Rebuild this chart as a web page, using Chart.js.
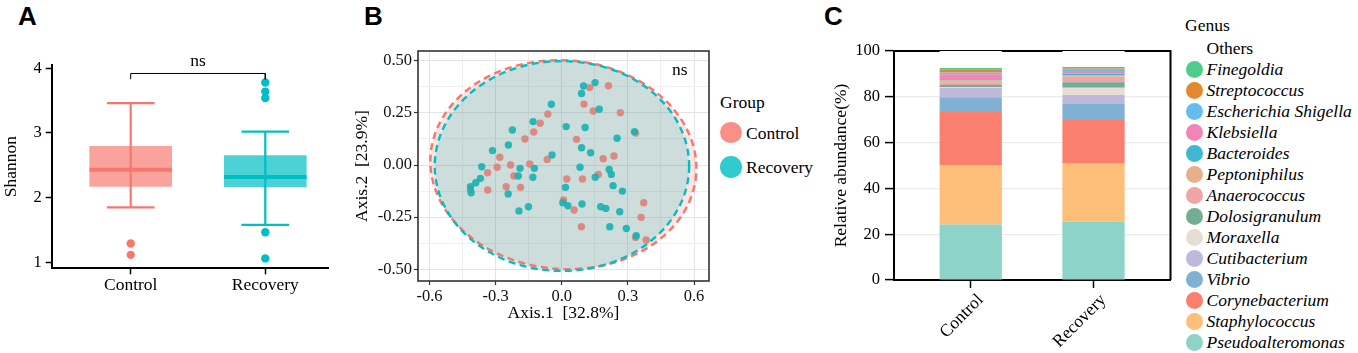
<!DOCTYPE html>
<html><head><meta charset="utf-8">
<script src="https://cdn.jsdelivr.net/npm/chart.js@4.4.1/dist/chart.umd.min.js"></script>
<style>
html,body{margin:0;padding:0;background:#fff;}
body{width:1358px;height:353px;position:relative;overflow:hidden;font-family:'Liberation Serif','Times New Roman',serif;color:#000;}
canvas{position:absolute;top:0;}
.pl{position:absolute;font-family:'Liberation Sans',Arial,sans-serif;font-weight:bold;font-size:26px;line-height:26px;}
.lg{position:absolute;font-family:'Liberation Serif','Times New Roman',serif;font-size:17.5px;line-height:20px;white-space:nowrap;transform:translateY(-50%);}
.dot{position:absolute;border-radius:50%;}
</style></head>
<body>
<div class="pl" style="left:18px;top:3px">A</div>
<div class="pl" style="left:364px;top:3px">B</div>
<div class="pl" style="left:824px;top:3px">C</div>
<canvas id="cA" width="345" height="353" style="left:0"></canvas>
<canvas id="cB" width="380" height="353" style="left:340px"></canvas>
<canvas id="cC" width="360" height="353" style="left:820px"></canvas>
<div id="legB"></div>
<div id="legC"></div>
<script>
// ---------- Panel A: Shannon diversity ----------
const boxGroups = ['Control', 'Recovery'];
const boxPositions = [0, 1];
const boxQ1 = [2.17, 2.16];
const boxMedian = [2.43, 2.32];
const boxQ3 = [2.80, 2.655];
const whiskerLow = [1.85, 1.58];
const whiskerHigh = [3.46, 3.02];
const outliersControl = [1.29, 1.115];
const outliersRecovery = [3.78, 3.64, 3.54, 1.465, 1.06];
const shannonTicks = [1, 2, 3, 4];
const bracketY = [3.83, 3.92];

// ---------- Panel B: PCoA ----------
const pcoaControl = [[0.127,0.371],[0.212,0.380],[0.101,0.292],[0.143,0.259],[0.266,0.251],[-0.063,0.244],[-0.098,0.200],[-0.127,0.158],[-0.167,0.125],[0.067,0.123],[0.335,0.153],[-0.281,0.037],[-0.066,0.027],[0.188,0.030],[0.237,0.043],[-0.293,-0.011],[-0.232,0.000],[-0.145,0.005],[-0.336,-0.037],[-0.217,-0.053],[-0.252,-0.104],[-0.187,-0.107],[-0.336,-0.120],[-0.414,-0.117],[0.023,-0.067],[0.094,-0.067],[0.166,-0.045],[0.008,-0.168],[0.056,-0.216],[0.089,-0.296],[0.372,-0.181],[0.360,-0.251],[0.335,-0.347],[0.383,-0.359]];
const pcoaRecovery = [[0.099,0.379],[0.151,0.395],[0.090,0.343],[-0.047,0.291],[0.170,0.267],[-0.130,0.208],[0.020,0.184],[0.106,0.180],[-0.224,0.168],[0.330,0.160],[0.251,0.128],[-0.242,0.096],[0.090,0.083],[-0.314,0.069],[0.131,0.059],[-0.044,0.048],[-0.363,-0.008],[0.083,-0.011],[-0.189,-0.016],[-0.124,-0.016],[-0.369,-0.064],[-0.390,-0.085],[-0.414,-0.104],[-0.411,-0.133],[-0.197,-0.053],[-0.131,-0.059],[0.017,-0.107],[-0.243,-0.139],[0.215,-0.021],[0.225,-0.045],[0.233,-0.099],[0.275,-0.125],[0.152,-0.059],[-0.194,-0.220],[-0.151,-0.200],[0.005,-0.181],[0.028,-0.195],[0.092,-0.187],[0.177,-0.200],[0.200,-0.208],[0.263,-0.224],[0.218,-0.296],[0.293,-0.304],[0.338,-0.339]];
// ellipse: [centreX, centreY, radiusX, radiusY, rotationDeg]
const ellipseControl = [0.0075, 0.0015, 0.604, 0.500, 4];
const ellipseRecovery = [0.001, -0.0047, 0.577, 0.503, 0];
const pcoaXTicks = [-0.6,-0.45,-0.3,-0.15,0,0.15,0.3,0.45,0.6];
const pcoaYTicks = [-0.5,-0.375,-0.25,-0.125,0,0.125,0.25,0.375,0.5];
const groupNames = ['Control', 'Recovery'];

// ---------- Panel C: genus composition (bottom to top) ----------
const genera = ['Pseudoalteromonas','Staphylococcus','Corynebacterium','Vibrio','Cutibacterium','Moraxella','Dolosigranulum','Anaerococcus','Peptoniphilus','Bacteroides','Klebsiella','Escherichia Shigella','Streptococcus','Finegoldia','Others'];
const abundanceControl  = [24.2, 26.0, 23.2, 6.4, 4.2, 0.3, 0.9, 0.9, 1.0, 0.6, 2.1, 0.8, 1.4, 0.6, 7.4];
const abundanceRecovery = [25.6, 25.5, 18.8, 7.0, 3.9, 3.2, 2.3, 2.5, 0.7, 0.7, 1.1, 0.5, 0.6, 0.6, 7.0];
const genusColors = ['#8DD3C7','#FDBE78','#FA7F6F','#80B1D3','#BEB8DC','#E8DDD4','#72AE96','#EFA4A6','#E6B08A','#3DB7D2','#F384B5','#65BDED','#E5872C','#4FCB8B','#FFFFFF'];
const abundanceTicks = [0, 20, 40, 60, 80, 100];
const sampleGroups = ['Control', 'Recovery'];

Chart.defaults.font.family = "'Liberation Serif','Times New Roman',serif";
Chart.defaults.color = '#000';
Chart.defaults.animation = false;

const colA = ['#F8766D', '#00BFC4'];
const boxFillA = ['rgba(248,118,109,0.68)', 'rgba(0,191,196,0.70)'];

// ---------- Chart A ----------
(function(){
  const ds = [];
  ds.push({type:'line', data:[{x:0,y:bracketY[0]},{x:0,y:bracketY[1]},{x:1,y:bracketY[1]},{x:1,y:bracketY[0]}],
           borderColor:'#000', borderWidth:1, pointRadius:0, tension:0, fill:false, order:0});
  ds.push({type:'scatter', data: outliersControl.map(v=>({x:0,y:v})), backgroundColor:colA[0], borderWidth:0, pointRadius:4.2, order:1});
  ds.push({type:'scatter', data: outliersRecovery.map(v=>({x:1,y:v})), backgroundColor:colA[1], borderWidth:0, pointRadius:4.2, order:1});
  const boxHalf = 0.307, capHalf = 0.177;
  boxPositions.forEach((p,i)=>{
    ds.push({type:'line', data:[{x:p-boxHalf,y:boxMedian[i]},{x:p+boxHalf,y:boxMedian[i]}], borderColor:colA[i], borderWidth:4, pointRadius:0, tension:0, order:2});
    ds.push({type:'line', data:[{x:p,y:whiskerLow[i]},{x:p,y:whiskerHigh[i]}], borderColor:colA[i], borderWidth:2.2, pointRadius:0, tension:0, order:3});
    ds.push({type:'line', data:[{x:p-capHalf,y:whiskerHigh[i]},{x:p+capHalf,y:whiskerHigh[i]}], borderColor:colA[i], borderWidth:2.2, pointRadius:0, tension:0, order:3});
    ds.push({type:'line', data:[{x:p-capHalf,y:whiskerLow[i]},{x:p+capHalf,y:whiskerLow[i]}], borderColor:colA[i], borderWidth:2.2, pointRadius:0, tension:0, order:3});
  });
  ds.push({type:'bar', data: boxPositions.map((p,i)=>({x:p, y:[boxQ1[i], boxQ3[i]]})), backgroundColor:boxFillA, borderWidth:0,
           barPercentage:0.614, categoryPercentage:1, order:4});
  const nsPlugin = {id:'nsA', afterDraw(c){
    const ctx=c.ctx, x=c.scales.x, y=c.scales.y;
    ctx.save(); ctx.font="17.5px 'Liberation Serif',serif"; ctx.fillStyle='#000'; ctx.textAlign='center'; ctx.textBaseline='alphabetic';
    ctx.fillText('ns', (x.getPixelForValue(0)+x.getPixelForValue(1))/2, y.getPixelForValue(bracketY[1]) - 7);
    ctx.restore();
  }};
  new Chart(document.getElementById('cA'), {
    type:'scatter', data:{datasets:ds},
    options:{responsive:false, maintainAspectRatio:false, animation:false,
      layout:{padding:{top:65,right:17,bottom:0,left:0}},
      plugins:{legend:{display:false}, tooltip:{enabled:false}},
      scales:{
        x:{type:'linear', min:-0.587, max:1.466, offset:false, stacked:false,
          afterBuildTicks:s=>{s.ticks=boxPositions.map(v=>({value:v}));},
          afterFit:s=>{s.height=84.7;},
          ticks:{callback:v=>boxGroups[v], font:{size:17.5}, color:'#000', padding:1, maxRotation:0, autoSkip:false},
          grid:{drawOnChartArea:false, drawTicks:true, tickLength:6, tickColor:'#000', tickWidth:1.5, offset:false},
          border:{color:'#000', width:2}},
        y:{type:'linear', min:0.907, max:4.051, beginAtZero:false,
          afterBuildTicks:s=>{s.ticks=shannonTicks.map(v=>({value:v}));},
          afterFit:s=>{s.width=51.7;},
          ticks:{font:{size:16.5}, color:'#000', padding:4, callback:v=>String(v)},
          grid:{drawOnChartArea:false, drawTicks:true, tickLength:6, tickColor:'#000', tickWidth:1.5},
          border:{color:'#000', width:2},
          title:{display:true, text:'Shannon', font:{size:17.5}, color:'#000', padding:{top:0.5,bottom:0}}}
      }},
    plugins:[nsPlugin]
  });
})();

// ---------- Chart B ----------
(function(){
  const isMajX = v => Math.abs(v/0.3 - Math.round(v/0.3)) < 1e-6;
  const isMajY = v => Math.abs(v/0.25 - Math.round(v/0.25)) < 1e-6;
  const ellipses = [[ellipseControl,'rgba(248,118,109,0.2)','#F8766D'],[ellipseRecovery,'rgba(0,191,196,0.2)','#00BFC4']];
  const ellPlugin = {id:'ell', beforeDatasetsDraw(c){
    const ctx=c.ctx, x=c.scales.x, y=c.scales.y;
    const sx = x.getPixelForValue(1)-x.getPixelForValue(0), sy = y.getPixelForValue(0)-y.getPixelForValue(1);
    ellipses.forEach(([e,fillC])=>{
      ctx.save(); ctx.beginPath();
      ctx.ellipse(x.getPixelForValue(e[0]), y.getPixelForValue(e[1]), e[2]*sx, e[3]*sy, e[4]*Math.PI/180, 0, Math.PI*2);
      ctx.fillStyle=fillC; ctx.fill(); ctx.restore();
    });
    ellipses.forEach(([e,fillC,strokeC])=>{
      ctx.save(); ctx.beginPath();
      ctx.ellipse(x.getPixelForValue(e[0]), y.getPixelForValue(e[1]), e[2]*sx, e[3]*sy, e[4]*Math.PI/180, 0, Math.PI*2);
      ctx.setLineDash([7,4.5]); ctx.lineWidth=2.4; ctx.strokeStyle=strokeC; ctx.stroke(); ctx.restore();
    });
  }, afterDatasetsDraw(c){
    const ctx=c.ctx, a=c.chartArea, x=c.scales.x, y=c.scales.y;
    ctx.save(); ctx.strokeStyle='#333'; ctx.lineWidth=1.6;
    ctx.strokeRect(a.left, a.top, a.right-a.left, a.bottom-a.top);
    ctx.font="17.5px 'Liberation Serif',serif"; ctx.fillStyle='#000'; ctx.textAlign='center'; ctx.textBaseline='middle';
    ctx.fillText('ns', x.getPixelForValue(0.535), y.getPixelForValue(0.455));
    ctx.restore();
  }};
  new Chart(document.getElementById('cB'), {
    type:'scatter',
    data:{datasets:[
      {label:groupNames[1], data:pcoaRecovery.map(p=>({x:p[0],y:p[1]})), backgroundColor:'rgba(22,178,180,0.9)', borderWidth:0, pointRadius:3.7, order:0},
      {label:groupNames[0], data:pcoaControl.map(p=>({x:p[0],y:p[1]})), backgroundColor:'rgba(222,130,120,0.9)', borderWidth:0, pointRadius:3.7, order:1}
    ]},
    options:{responsive:false, maintainAspectRatio:false, animation:false,
      layout:{padding:{top:51,right:11,bottom:0,left:0}},
      plugins:{legend:{display:false}, tooltip:{enabled:false}},
      scales:{
        x:{type:'linear', min:-0.652, max:0.668,
          afterBuildTicks:s=>{s.ticks=pcoaXTicks.map(v=>({value:v}));},
          afterFit:s=>{s.height=72;},
          ticks:{callback:v=>isMajX(v)?v.toFixed(1):'', font:{size:16.5}, color:'#111', padding:2, maxRotation:0, autoSkip:false},
          grid:{color:ctx=>isMajX(ctx.tick.value)?'#E4E4E4':'#F0F0F0', lineWidth:1, drawTicks:true, tickLength:4,
                tickColor:ctx=>isMajX(ctx.tick.value)?'#333':'rgba(0,0,0,0)', tickWidth:1.2},
          border:{display:false},
          title:{display:true, text:'Axis.1  [32.8%]', font:{size:17.5}, color:'#000', padding:{top:0,bottom:29.5}}},
        y:{type:'linear', min:-0.556, max:0.5465,
          afterBuildTicks:s=>{s.ticks=pcoaYTicks.map(v=>({value:v}));},
          afterFit:s=>{s.width=78;},
          ticks:{callback:v=>isMajY(v)?v.toFixed(2):'', font:{size:16.5}, color:'#111', padding:2, autoSkip:false},
          grid:{color:ctx=>isMajY(ctx.tick.value)?'#E4E4E4':'#F0F0F0', lineWidth:1, drawTicks:true, tickLength:4,
                tickColor:ctx=>isMajY(ctx.tick.value)?'#333':'rgba(0,0,0,0)', tickWidth:1.2},
          border:{display:false},
          title:{display:true, text:'Axis.2  [23.9%]', font:{size:17.5}, color:'#000', padding:{top:11.5,bottom:0}}}
      }},
    plugins:[ellPlugin]
  });
  const lg = document.getElementById('legB');
  let h = '<div class="lg" style="left:720px;top:102px">Group</div>';
  const lcol = ['rgba(248,118,109,0.82)','rgba(0,191,196,0.82)'];
  const ly = [132.5, 167.2];
  groupNames.forEach((g,i)=>{
    h += `<div class="dot" style="left:${730.8-10.8}px;top:${ly[i]-10.8}px;width:21.6px;height:21.6px;background:${lcol[i]}"></div>`;
    h += `<div class="lg" style="left:746px;top:${ly[i]}px">${g}</div>`;
  });
  lg.innerHTML = h;
})();

// ---------- Chart C ----------
(function(){
  const framePlugin = {id:'frameC', beforeDatasetsDraw(c){
    const ctx=c.ctx, a=c.chartArea;
    ctx.save(); ctx.strokeStyle='#000'; ctx.lineWidth=2;
    ctx.beginPath(); ctx.moveTo(a.left, a.top); ctx.lineTo(a.right, a.top); ctx.lineTo(a.right, a.bottom); ctx.stroke();
    ctx.restore();
  }};
  new Chart(document.getElementById('cC'), {
    type:'bar',
    data:{datasets: genera.map((g,i)=>({label:g,
      data:[{x:0,y:abundanceControl[i]},{x:1,y:abundanceRecovery[i]}],
      backgroundColor:genusColors[i], borderWidth:0, barPercentage:0.507, categoryPercentage:1}))},
    options:{responsive:false, maintainAspectRatio:false, animation:false,
      layout:{padding:{top:51,right:9.5,bottom:0,left:0}},
      plugins:{legend:{display:false}, tooltip:{enabled:false}},
      scales:{
        x:{type:'linear', min:-0.625, max:1.627, offset:false, stacked:true,
          afterBuildTicks:s=>{s.ticks=[0,1].map(v=>({value:v}));},
          afterFit:s=>{s.height=73;},
          ticks:{callback:v=>sampleGroups[v], font:{size:17.5}, color:'#000', padding:2, minRotation:45, maxRotation:45, autoSkip:false, labelOffset:10},
          grid:{drawOnChartArea:false, drawTicks:true, tickLength:8, tickColor:'#000', tickWidth:1.5, offset:false},
          border:{color:'#000', width:2}},
        y:{type:'linear', min:0, max:100, stacked:true, beginAtZero:true,
          afterBuildTicks:s=>{s.ticks=abundanceTicks.map(v=>({value:v}));},
          afterFit:s=>{s.width=74;},
          ticks:{font:{size:16.5}, color:'#000', padding:5, callback:v=>String(v)},
          grid:{color:ctx=>(ctx.tick.value>0&&ctx.tick.value<100)?'#EBEBEB':'rgba(0,0,0,0)', lineWidth:1.2, drawTicks:true, tickLength:9, tickColor:'#000', tickWidth:1.5},
          border:{color:'#000', width:2},
          title:{display:true, text:'Relative abundance(%)', font:{size:17.5}, color:'#000', padding:{top:11.2,bottom:0}}}
      }},
    plugins:[framePlugin]
  });
  const lg = document.getElementById('legC');
  let h = '<div class="lg" style="left:1185px;top:25px">Genus</div>';
  const order = genera.slice().reverse();
  const cols = genusColors.slice().reverse();
  order.forEach((g,i)=>{
    const cy = 48.3 + i*21.0;
    if (g !== 'Others') {
      h += `<div class="dot" style="left:${1194.3-8.7}px;top:${cy-8.7}px;width:17.4px;height:17.4px;background:${cols[i]}"></div>`;
      h += `<div class="lg" style="left:1206.5px;top:${cy}px;font-style:italic">${g}</div>`;
    } else {
      h += `<div class="lg" style="left:1206.5px;top:${cy}px">${g}</div>`;
    }
  });
  lg.innerHTML = h;
})();
</script>
</body></html>
